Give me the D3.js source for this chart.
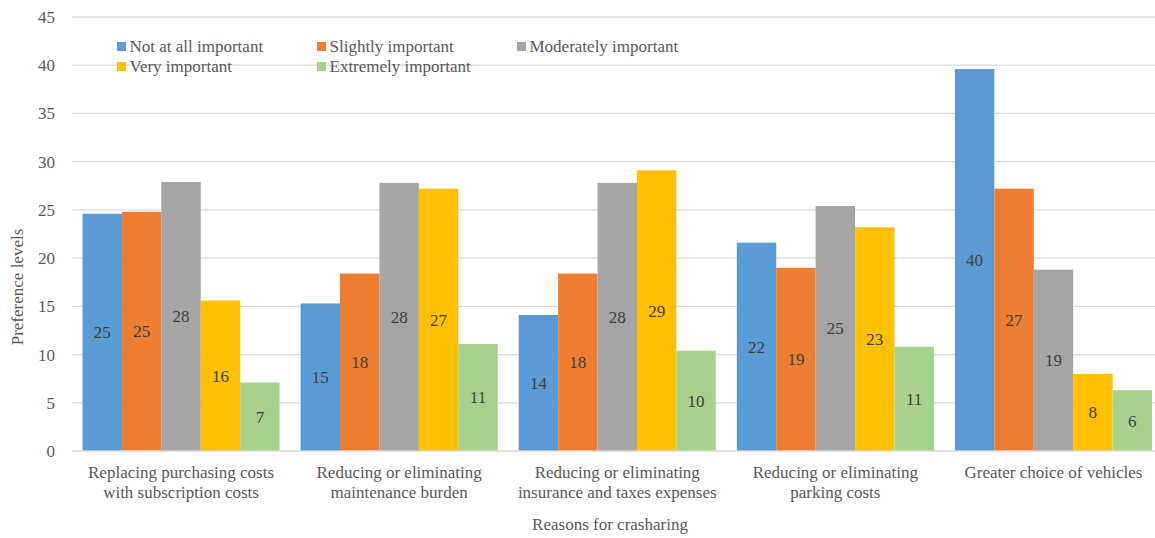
<!DOCTYPE html>
<html>
<head>
<meta charset="utf-8">
<script src="https://cdn.jsdelivr.net/npm/d3@7"></script>
<style>
  html, body { margin: 0; padding: 0; background: #fff; }
  svg { display: block; }
  svg text { font-family: "Times New Roman", Times, "Liberation Serif", Tinos, "Noto Serif", "DejaVu Serif", FreeSerif, serif; }
</style>
</head>
<body>
<svg id="chart" width="1155" height="538"></svg>
<script>
// Reasons for carsharing (x categories, two-line labels)
const categories = [
  ["Replacing purchasing costs", "with subscription costs"],
  ["Reducing or eliminating", "maintenance burden"],
  ["Reducing or eliminating", "insurance and taxes expenses"],
  ["Reducing or eliminating", "parking costs"],
  ["Greater choice of vehicles"]
];

const seriesNames = [
  "Not at all important",
  "Slightly important",
  "Moderately important",
  "Very important",
  "Extremely important"
];

// Values per series, one entry per category
const notAtAll   = [24.6, 15.3, 14.1, 21.6, 39.6];
const slightly   = [24.8, 18.4, 18.4, 19.0, 27.2];
const moderately = [27.9, 27.8, 27.8, 25.4, 18.8];
const very       = [15.6, 27.2, 29.1, 23.2, 8.0];
const extremely  = [7.1, 11.1, 10.4, 10.8, 6.3];

const yTicks = [0, 5, 10, 15, 20, 25, 30, 35, 40, 45];

const seriesValues = [notAtAll, slightly, moderately, very, extremely];
const colors = ["#5b9bd5", "#ed7d31", "#a5a5a5", "#ffc000", "#a9d18e"];

const svg = d3.select("#chart");
const plotLeft = 72, plotTop = 17, plotBottom = 451;
const step = 218.1;
const plotRight = plotLeft + step * categories.length;

const x0 = d3.scaleBand()
  .domain(d3.range(categories.length))
  .range([plotLeft, plotRight])
  .paddingInner(0.0963)
  .paddingOuter(0.0963 / 2);

const x1 = d3.scaleBand()
  .domain(d3.range(seriesNames.length))
  .range([0, x0.bandwidth()]);

const y = d3.scaleLinear().domain([0, 45]).range([plotBottom, plotTop]);

// Gridlines
svg.append("g")
  .selectAll("line")
  .data(yTicks.filter(t => t > 0))
  .join("line")
  .attr("x1", plotLeft).attr("x2", 1155)
  .attr("y1", d => y(d)).attr("y2", d => y(d))
  .attr("stroke", "#d9d9d9").attr("stroke-width", 1.3);

// Y tick labels
svg.append("g")
  .selectAll("text")
  .data(yTicks)
  .join("text")
  .attr("x", 55)
  .attr("y", d => y(d))
  .attr("dy", "0.35em")
  .attr("text-anchor", "end")
  .attr("font-size", 17)
  .attr("fill", "#595959")
  .text(d => d);

// Bars
const rows = [];
categories.forEach((c, ci) => {
  seriesValues.forEach((vals, si) => {
    rows.push({ ci, si, v: vals[ci] });
  });
});

svg.append("g")
  .selectAll("rect")
  .data(rows)
  .join("rect")
  .attr("x", d => x0(d.ci) + x1(d.si))
  .attr("y", d => y(d.v))
  .attr("width", x1.bandwidth())
  .attr("height", d => y(0) - y(d.v))
  .attr("fill", d => colors[d.si]);

// Value labels, centred inside bars
const fmt = d3.format(".0f");
svg.append("g")
  .selectAll("text")
  .data(rows)
  .join("text")
  .attr("x", d => x0(d.ci) + x1(d.si) + x1.bandwidth() / 2)
  .attr("y", d => (y(d.v) + y(0)) / 2)
  .attr("dy", "0.35em")
  .attr("text-anchor", "middle")
  .attr("font-size", 17)
  .attr("fill", "#404040")
  .text(d => fmt(d.v));

// X axis line
svg.append("line")
  .attr("x1", plotLeft).attr("x2", 1155)
  .attr("y1", y(0)).attr("y2", y(0))
  .attr("stroke", "#d9d9d9").attr("stroke-width", 1.5);

// Category labels
const catG = svg.append("g")
  .selectAll("text")
  .data(categories)
  .join("text")
  .attr("text-anchor", "middle")
  .attr("font-size", 17)
  .attr("fill", "#595959");
catG.selectAll("tspan")
  .data((d, i) => d.map(line => ({ line, i })))
  .join("tspan")
  .attr("x", d => x0(d.i) + x0.bandwidth() / 2)
  .attr("y", (d, j) => 478 + j * 20)
  .text(d => d.line);

// Axis titles
svg.append("text")
  .attr("x", 610).attr("y", 530)
  .attr("text-anchor", "middle")
  .attr("font-size", 17)
  .attr("fill", "#595959")
  .text("Reasons for crasharing");

svg.append("text")
  .attr("transform", "translate(23,287) rotate(-90)")
  .attr("text-anchor", "middle")
  .attr("font-size", 17)
  .attr("fill", "#595959")
  .text("Preference levels");

// Legend
const legendPos = [
  [117, 46.5], [317, 46.5], [517, 46.5],
  [117, 66.5], [317, 66.5]
];
const lg = svg.append("g")
  .selectAll("g")
  .data(seriesNames)
  .join("g")
  .attr("transform", (d, i) => `translate(${legendPos[i][0]},${legendPos[i][1]})`);
lg.append("rect")
  .attr("x", 0).attr("y", -4.5)
  .attr("width", 9).attr("height", 9)
  .attr("fill", (d, i) => colors[i]);
lg.append("text")
  .attr("x", 12.5).attr("y", 0)
  .attr("dy", "0.35em")
  .attr("font-size", 17)
  .attr("fill", "#595959")
  .text(d => d);
</script>
</body>
</html>
